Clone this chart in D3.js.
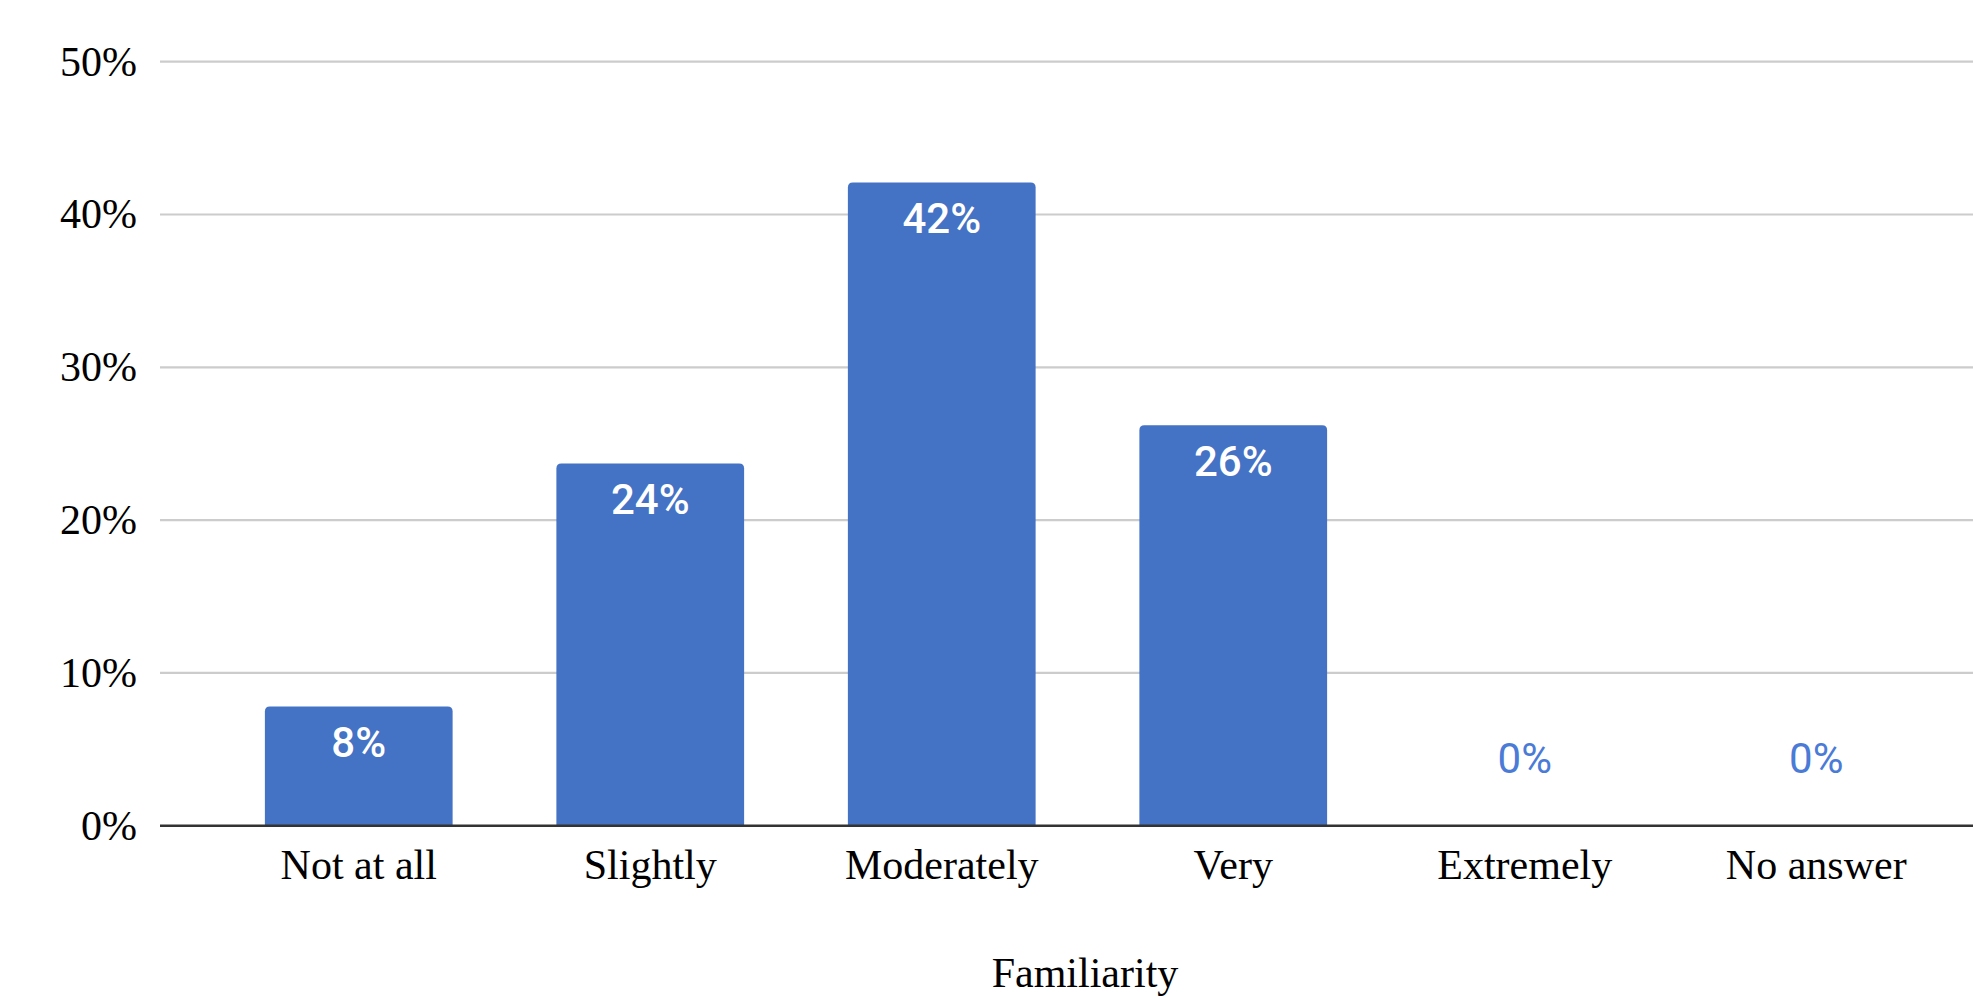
<!DOCTYPE html>
<html>
<head>
<meta charset="utf-8">
<script src="https://cdn.jsdelivr.net/npm/d3@7"></script>
<style>
  body { margin: 0; background: #fff; }
  svg { display: block; }
</style>
</head>
<body>
<div id="chart"></div>
<script>
var categories = ["Not at all", "Slightly", "Moderately", "Very", "Extremely", "No answer"];
var values = [7.8, 23.7, 42.1, 26.2, 0, 0];
var yTicks = [0, 10, 20, 30, 40, 50];
var xTitle = "Familiarity";

var width = 1973, height = 998;
var barColor = "#4472c4";
var serif = "'Liberation Serif', 'Times New Roman', serif";

var svg = d3.select("#chart").append("svg")
    .attr("width", width)
    .attr("height", height);

var x = d3.scaleBand()
    .domain(categories)
    .range([213, 1962])
    .paddingInner(0.356)
    .paddingOuter(0.178);

var y = d3.scaleLinear()
    .domain([0, 50])
    .range([825.7, 61.7]);

// gridlines
svg.append("g")
  .selectAll("line")
  .data(yTicks.filter(function(d) { return d > 0; }))
  .enter().append("line")
    .attr("x1", 160)
    .attr("x2", width)
    .attr("y1", function(d) { return y(d); })
    .attr("y2", function(d) { return y(d); })
    .style("stroke", "#cccccc")
    .style("stroke-width", 2.2);

// y axis labels
var yAxis = svg.append("g")
    .attr("transform", "translate(137,0)")
    .call(d3.axisLeft(y).tickValues(yTicks).tickSize(0).tickPadding(0)
      .tickFormat(function(d) { return d + "%"; }));
yAxis.select(".domain").remove();
yAxis.selectAll("text")
    .style("font-family", serif)
    .style("font-size", "42px")
    .style("fill", "#000");

// bars, rounded top corners
function barPath(x0, y0, w, h, r) {
  r = Math.min(r, h);
  return "M" + x0 + "," + (y0 + h) +
    "V" + (y0 + r) +
    "Q" + x0 + "," + y0 + " " + (x0 + r) + "," + y0 +
    "H" + (x0 + w - r) +
    "Q" + (x0 + w) + "," + y0 + " " + (x0 + w) + "," + (y0 + r) +
    "V" + (y0 + h) + "Z";
}

svg.append("g")
  .selectAll("path")
  .data(categories.map(function(c, i) { return {cat: c, v: values[i]}; })
    .filter(function(d) { return d.v > 0; }))
  .enter().append("path")
    .attr("d", function(d) {
      return barPath(x(d.cat), y(d.v), x.bandwidth(), y(0) - y(d.v), 5);
    })
    .style("fill", barColor);

// baseline
svg.append("line")
    .attr("x1", 160)
    .attr("x2", width)
    .attr("y1", y(0))
    .attr("y2", y(0))
    .style("stroke", "#333333")
    .style("stroke-width", 2.5);

// value labels
svg.append("g")
  .selectAll("text")
  .data(categories.map(function(c, i) { return {cat: c, v: values[i]}; }))
  .enter().append("text")
    .attr("x", function(d) { return x(d.cat) + x.bandwidth() / 2; })
    .attr("y", function(d) { return d.v > 0 ? y(d.v) + 36 : y(0) - 67; })
    .attr("text-anchor", "middle")
    .attr("dominant-baseline", "central")
    .style("font-family", "Roboto, sans-serif")
    .style("font-weight", function(d) { return d.v > 0 ? 500 : 400; })
    .style("font-size", "42px")
    .style("fill", function(d) { return d.v > 0 ? "#ffffff" : "#4a7bd6"; })
    .text(function(d) { return Math.round(d.v) + "%"; });

// x axis labels
var xAxis = svg.append("g")
    .attr("transform", "translate(0," + y(0) + ")")
    .call(d3.axisBottom(x).tickSize(0).tickPadding(0));
xAxis.select(".domain").remove();
xAxis.selectAll("text")
    .attr("dy", null)
    .attr("y", 53)
    .style("font-family", serif)
    .style("font-size", "42px")
    .style("fill", "#000");

// axis title
svg.append("text")
    .attr("x", 1085)
    .attr("y", 987)
    .attr("text-anchor", "middle")
    .style("font-family", serif)
    .style("font-size", "42px")
    .style("fill", "#000")
    .text(xTitle);
</script>
</body>
</html>
